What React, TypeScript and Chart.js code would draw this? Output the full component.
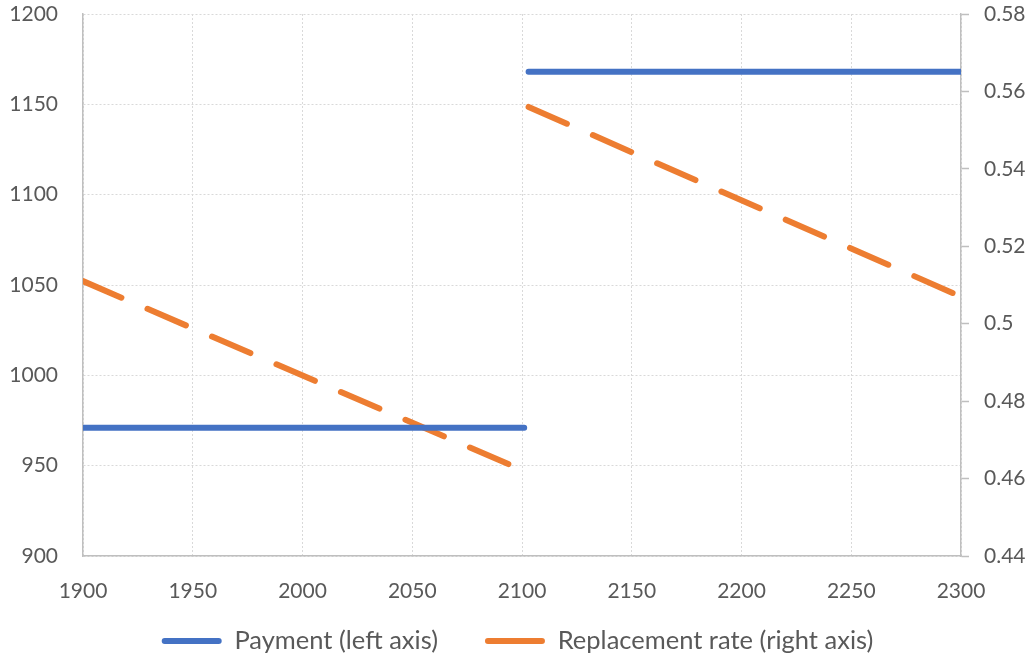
import React, { useEffect, useRef } from 'react';
import { Chart, registerables } from 'chart.js';

Chart.register(...registerables);

// Years covered by the two regimes
const earlyYears = [1900, 2101];
const lateYears = [2103, 2300];

// Payment (left axis)
const paymentEarly = [971, 971];
const paymentLate = [1168, 1168];

// Replacement rate (right axis)
const rateEarly = [0.511, 0.462];
const rateLate = [0.556, 0.507];

// Axis ticks
const xTicks = [1900, 1950, 2000, 2050, 2100, 2150, 2200, 2250, 2300];
const leftTicks = [900, 950, 1000, 1050, 1100, 1150, 1200];
const rightTicks = [0.44, 0.46, 0.48, 0.5, 0.52, 0.54, 0.56, 0.58];

const BLUE = '#4472C4';
const ORANGE = '#ED7D31';
const TEXT = '#595959';
const GRID = '#d9d9d9';
const AXIS = '#bfbfbf';
const FONT = 'Lato, "Noto Sans", sans-serif';

// Two runs joined by a null point so the line breaks at the regime change
function series(yearsA: number[], valsA: number[], yearsB: number[], valsB: number[]) {
  const a = yearsA.map((x, i) => ({ x, y: valsA[i] as number | null }));
  const b = yearsB.map((x, i) => ({ x, y: valsB[i] as number | null }));
  const gap = { x: (yearsA[yearsA.length - 1] + yearsB[0]) / 2, y: null };
  return [...a, gap, ...b];
}

const fmt = (v: number) => String(Number(v.toFixed(2)));

// Let the x tick labels draw below the axis box instead of being clipped to it
const labelRoom = {
  id: 'labelRoom',
  afterLayout(chart: any) {
    const x = chart.scales.x;
    if (x) x.bottom = chart.height;
  },
};

export default function App() {
  const ref = useRef<HTMLCanvasElement | null>(null);

  useEffect(() => {
    if (!ref.current) return;
    const chart = new Chart(ref.current, {
      type: 'line',
      data: {
        datasets: [
          {
            label: 'Payment (left axis)',
            data: series(earlyYears, paymentEarly, lateYears, paymentLate),
            borderColor: BLUE,
            backgroundColor: BLUE,
            borderWidth: 6,
            borderCapStyle: 'round',
            pointRadius: 0,
            spanGaps: false,
            yAxisID: 'y',
          },
          {
            label: 'Replacement rate (right axis)',
            data: series(earlyYears, rateEarly, lateYears, rateLate),
            borderColor: ORANGE,
            backgroundColor: ORANGE,
            borderWidth: 6,
            borderCapStyle: 'round',
            borderDash: [41.8, 28.4],
            pointRadius: 0,
            spanGaps: false,
            yAxisID: 'y1',
          },
        ],
      },
      plugins: [labelRoom],
      options: {
        responsive: false,
        animation: false,
        devicePixelRatio: 1,
        layout: { padding: { top: 14, left: 0, right: 0, bottom: -4.75 } },
        plugins: {
          tooltip: { enabled: false },
          legend: {
            position: 'bottom',
            labels: {
              color: TEXT,
              font: { family: FONT, size: 25.5 },
              boxWidth: 60,
              boxHeight: 6,
              padding: 47,
              generateLabels: (c: any) =>
                Chart.defaults.plugins.legend.labels.generateLabels(c).map((item: any) => ({
                  ...item,
                  fillStyle: item.strokeStyle,
                  lineWidth: 0,
                  lineDash: [],
                  borderRadius: 3,
                })),
            },
          },
        },
        scales: {
          x: {
            type: 'linear',
            min: xTicks[0],
            max: xTicks[xTicks.length - 1],
            afterBuildTicks: (s: any) => {
              s.ticks = xTicks.map((value) => ({ value }));
            },
            afterFit: (s: any) => {
              s.height = 25.25;
              s.paddingLeft = 0;
              s.paddingRight = 0;
            },
            grid: { color: GRID, lineWidth: 1, drawTicks: false },
            border: { color: AXIS, width: 1.5, dash: [2, 2] },
            ticks: {
              color: TEXT,
              font: { family: FONT, size: 21 },
              padding: 23,
              maxRotation: 0,
              autoSkip: false,
              callback: (v: any) => String(v),
            },
          },
          y: {
            type: 'linear',
            position: 'left',
            min: leftTicks[0],
            max: leftTicks[leftTicks.length - 1],
            afterBuildTicks: (s: any) => {
              s.ticks = leftTicks.map((value) => ({ value }));
            },
            afterFit: (s: any) => {
              s.width = 83;
              s.paddingTop = 0;
              s.paddingBottom = 0;
            },
            grid: { color: GRID, lineWidth: 1, drawTicks: false },
            border: { color: AXIS, width: 1.5, dash: [2, 2] },
            ticks: {
              color: TEXT,
              font: { family: FONT, size: 21 },
              padding: 25,
              callback: (v: any) => String(v),
            },
          },
          y1: {
            type: 'linear',
            position: 'right',
            min: rightTicks[0],
            max: rightTicks[rightTicks.length - 1],
            afterBuildTicks: (s: any) => {
              s.ticks = rightTicks.map((value) => ({ value }));
            },
            afterFit: (s: any) => {
              s.width = 74;
              s.paddingTop = 0;
              s.paddingBottom = 0;
            },
            grid: {
              drawOnChartArea: false,
              drawTicks: true,
              tickLength: 8,
              color: AXIS,
              tickColor: AXIS,
              tickWidth: 1.5,
            },
            border: { color: AXIS, width: 1.5 },
            ticks: {
              color: TEXT,
              font: { family: FONT, size: 21 },
              padding: 15,
              callback: (v: any) => fmt(Number(v)),
            },
          },
        },
      },
    } as any);
    return () => chart.destroy();
  }, []);

  return (
    <div style={{ position: 'absolute', left: 0, top: 0, width: 1035, height: 659, background: '#fff' }}>
      <canvas ref={ref} width={1035} height={659} style={{ display: 'block' }} />
    </div>
  );
}
